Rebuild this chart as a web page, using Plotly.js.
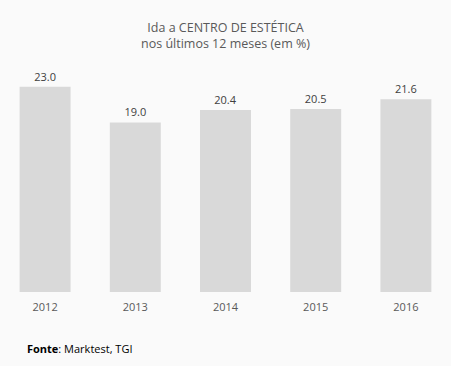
<!DOCTYPE html>
<html>
<head>
<meta charset="utf-8">
<script src="https://cdn.plot.ly/plotly-3.0.1.min.js"></script>
<style>
html,body{margin:0;padding:0;background:#fafafa;}
#chart{width:451px;height:366px;}
</style>
</head>
<body>
<div id="chart"></div>
<script>
const years = ["2012", "2013", "2014", "2015", "2016"];
const values = [23.0, 19.0, 20.4, 20.5, 21.6];
const labels = ["23.0", "19.0", "20.4", "20.5", "21.6"];

const trace = {
  type: "bar",
  x: years,
  y: values,
  text: labels,
  textposition: "outside",
  cliponaxis: false,
  textfont: {family: "Open Sans, Liberation Sans, sans-serif", size: 11, color: "#404040"},
  marker: {color: "#d9d9d9"},
  width: 0.565,
  hoverinfo: "none"
};

const layout = {
  width: 451,
  height: 366,
  margin: {l: 0, r: 0, t: 60, b: 74, pad: 0},
  paper_bgcolor: "#fafafa",
  plot_bgcolor: "#fafafa",
  showlegend: false,
  title: {
    text: "Ida a CENTRO DE ESTÉTICA<br>nos últimos 12 meses (em %)",
    font: {family: "Open Sans, Liberation Sans, sans-serif", size: 12.5, color: "#595959"},
    x: 0.5, xanchor: "center", y: 0.913, yanchor: "top"
  },
  xaxis: {
    type: "category",
    showgrid: false, zeroline: false, showline: false,
    ticks: "", ticklen: 0,
    ticklabelstandoff: 7,
    tickfont: {family: "Open Sans, Liberation Sans, sans-serif", size: 11, color: "#595959"}
  },
  yaxis: {
    range: [0, 26],
    visible: false,
    showgrid: false, zeroline: false
  },
  annotations: [{
    text: "<b>Fonte</b>: Marktest, TGI",
    xref: "paper", yref: "paper",
    x: 0, y: 0,
    xshift: 25, yshift: -56,
    xanchor: "left", yanchor: "middle",
    showarrow: false,
    font: {family: "Open Sans, Liberation Sans, sans-serif", size: 11, color: "#000000"}
  }]
};

Plotly.newPlot("chart", [trace], layout, {displayModeBar: false, staticPlot: true});
</script>
</body>
</html>
